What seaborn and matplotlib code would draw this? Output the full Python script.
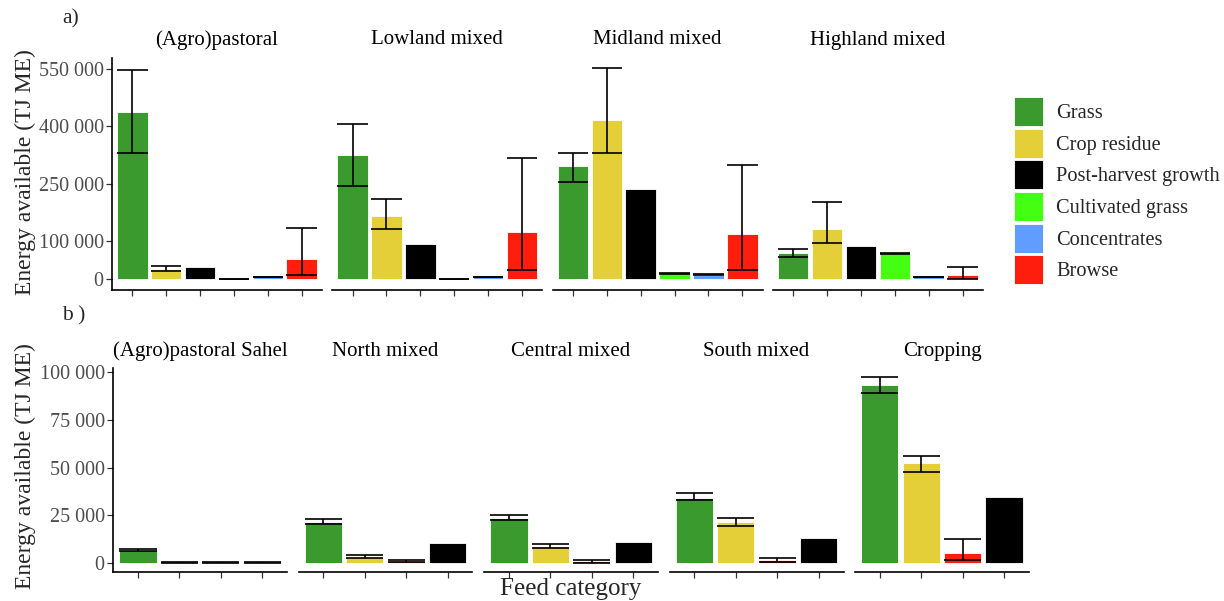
import numpy as np
import pandas as pd
import seaborn as sns
import matplotlib.pyplot as plt
from matplotlib.patches import Patch
from matplotlib.ticker import FuncFormatter

# Data (TJ ME)
top_systems = ["(Agro)pastoral", "Lowland mixed", "Midland mixed", "Highland mixed"]
top_feeds = ["Grass", "Crop residue", "Post-harvest growth", "Cultivated grass", "Concentrates", "Browse"]
top_mean = [
    [437000, 25000, 32000, 0, 5000, 52000],
    [325000, 165000, 92000, 0, 5000, 124000],
    [296000, 416000, 235000, 15000, 11000, 117000],
    [69000, 132000, 86000, 67000, 5000, 10000],
]
top_low = [
    [330000, 22000, np.nan, 0, 4000, 10000],
    [244000, 131000, np.nan, 0, 4000, 24000],
    [255000, 329000, np.nan, 14000, 10000, 23000],
    [58000, 93000, np.nan, 66000, 4000, 1000],
]
top_high = [
    [547000, 34000, np.nan, 0, 6000, 133000],
    [405000, 209000, np.nan, 0, 6000, 316000],
    [329000, 553000, np.nan, 16000, 12000, 298000],
    [79000, 201000, np.nan, 68000, 6000, 31000],
]
top_yticks = [0, 100000, 250000, 400000, 550000]

bottom_systems = ["(Agro)pastoral Sahel", "North mixed", "Central mixed", "South mixed", "Cropping"]
bottom_feeds = ["Grass", "Crop residue", "Browse", "Post-harvest growth"]
bottom_mean = [
    [6800, 400, 300, 400],
    [21500, 3500, 1000, 10400],
    [23500, 9000, 1000, 11000],
    [34200, 21700, 1500, 13400],
    [92900, 52200, 5200, 34400],
]
bottom_low = [
    [6400, 200, 100, 200],
    [20600, 3000, 500, np.nan],
    [22600, 8200, 300, np.nan],
    [33000, 19500, 500, np.nan],
    [88900, 47500, 1500, np.nan],
]
bottom_high = [
    [7300, 600, 500, 600],
    [23000, 4600, 1600, np.nan],
    [25200, 10300, 1700, np.nan],
    [36500, 23800, 2900, np.nan],
    [97400, 56200, 12800, np.nan],
]
bottom_yticks = [0, 25000, 50000, 75000, 100000]

legend_feeds = ["Grass", "Crop residue", "Post-harvest growth", "Cultivated grass", "Concentrates", "Browse"]
feed_colors = {
    "Grass": "#3a9a2d",
    "Crop residue": "#e5cf38",
    "Post-harvest growth": "#000000",
    "Cultivated grass": "#44ff11",
    "Concentrates": "#619cff",
    "Browse": "#ff1e0e",
}

sns.set_style("white")
plt.rcParams["font.family"] = ["Liberation Serif", "DejaVu Serif"]

W, H = 1224, 601
fig = plt.figure(figsize=(W / 100, H / 100), dpi=100)


def add_panel(left, top, width, bottom):
    return fig.add_axes([left / W, 1 - bottom / H, width / W, (bottom - top) / H])


thousands = FuncFormatter(lambda v, pos: f"{v:,.0f}".replace(",", " "))


def draw_facet(ax, title, feeds, mean, low, high, ylim, yticks, first, title_gap):
    df = pd.DataFrame({"feed": feeds, "energy": mean})
    sns.barplot(data=df, x="feed", y="energy", hue="feed", order=feeds, hue_order=feeds,
                palette=feed_colors, saturation=1, width=0.9, edgecolor="white",
                linewidth=0.6, legend=False, ax=ax)
    # error bars with caps as wide as the bars
    pos = np.arange(len(feeds))
    low = np.asarray(low, dtype=float)
    high = np.asarray(high, dtype=float)
    ok = ~np.isnan(low)
    ax.vlines(pos[ok], low[ok], high[ok], color="black", lw=1.2, zorder=3)
    ax.hlines(low[ok], pos[ok] - 0.45, pos[ok] + 0.45, color="black", lw=1.2, zorder=3)
    ax.hlines(high[ok], pos[ok] - 0.45, pos[ok] + 0.45, color="black", lw=1.2, zorder=3)

    ax.set_xlim(-0.6, len(feeds) - 0.4)
    ax.set_ylim(*ylim)
    ax.set_xlabel("")
    ax.set_ylabel("")
    ax.set_xticks(pos)
    ax.set_xticklabels([""] * len(feeds))
    ax.tick_params(axis="x", length=4, width=0.9, color="#333333", bottom=True)
    for side in ["top", "right"]:
        ax.spines[side].set_visible(False)
    ax.spines["bottom"].set_linewidth(1.2)
    ax.spines["bottom"].set_color("black")
    if first:
        ax.set_yticks(yticks)
        ax.yaxis.set_major_formatter(thousands)
        ax.spines["left"].set_linewidth(1.2)
        ax.spines["left"].set_color("black")
        ax.tick_params(axis="y", left=True, length=4, width=0.9, color="#333333",
                       labelsize=14.5, labelcolor="#4d4d4d", pad=2)
    else:
        ax.spines["left"].set_visible(False)
        ax.tick_params(axis="y", left=False, labelleft=False)
    ax.text(0.5, 1 + title_gap, title, transform=ax.transAxes, ha="center", va="center",
            fontsize=15, color="black")


# Panel a)
for i, system in enumerate(top_systems):
    ax = add_panel(112 + i * 220.3, 58, 210, 290)
    draw_facet(ax, system, top_feeds, top_mean[i], top_low[i], top_high[i],
               (-29000, 579000), top_yticks, i == 0, 18 / 232)

# Panel b)
for i, system in enumerate(bottom_systems):
    ax = add_panel(113 + i * 185.5, 368, 174, 572)
    draw_facet(ax, system, bottom_feeds, bottom_mean[i], bottom_low[i], bottom_high[i],
               (-4500, 101900), bottom_yticks, i == 0, 17 / 204)

# Labels
fig.text(25 / W, 1 - 172 / H, "Energy available (TJ ME)", rotation=90, ha="center", va="center", fontsize=17)
fig.text(25 / W, 1 - 466 / H, "Energy available (TJ ME)", rotation=90, ha="center", va="center", fontsize=17)
fig.text(571 / W, 6 / H, "Feed category", ha="center", va="baseline", fontsize=18)
fig.text(62 / W, 1 - 19 / H, "a)", ha="left", va="center", fontsize=15.5)
fig.text(62 / W, 1 - 316 / H, "b )", ha="left", va="center", fontsize=15.5)

# Legend
handles = [Patch(facecolor=feed_colors[f], edgecolor="white", linewidth=0.6) for f in legend_feeds]
fig.legend(handles, legend_feeds, loc="upper left", bbox_to_anchor=(1014 / W, 1 - 97 / H),
           frameon=False, fontsize=14.7, handlelength=1.4, handleheight=1.81,
           labelspacing=0.13, handletextpad=0.67, borderpad=0, borderaxespad=0)

fig.savefig("out.png", dpi=100)
